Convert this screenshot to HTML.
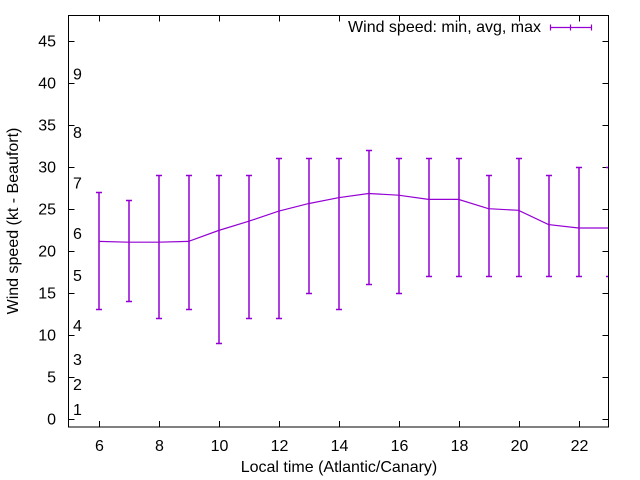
<!DOCTYPE html>
<html><head><meta charset="utf-8"><style>
html,body{margin:0;padding:0;background:#fff}
svg{display:block;font-family:"Liberation Sans",sans-serif}
</style></head><body>
<svg id="chart" width="640" height="480" viewBox="0 0 640 480">
<rect width="640" height="480" fill="#fff"/>
<g id="grid"></g>
<g id="beaufort"></g>
<g id="series"></g>
<rect x="68.5" y="15.5" width="540" height="411.5" fill="none" stroke="#000" stroke-width="1"/>
<text x="14" y="221" transform="rotate(-90 14 221)" text-anchor="middle" dominant-baseline="middle" font-size="16" fill="#000">Wind speed (kt - Beaufort)</text>
<text x="339" y="472" text-anchor="middle" font-size="16" fill="#000">Local time (Atlantic/Canary)</text>
<g>
<text x="541" y="32" text-anchor="end" font-size="16" fill="#000">Wind speed: min, avg, max</text>
<path d="M550.5 27.5H591.5M550.5 24.5V30.5M591.5 24.5V30.5M570.5 24.5V30.5" stroke="#9400d3" stroke-width="1.2" fill="none"/>
</g>
</svg>
<script>
const hours=[6,7,8,9,10,11,12,13,14,15,16,17,18,19,20,21,22,23];
const avgSpeed=[21.1,21,21,21.1,22.4,23.5,24.7,25.6,26.3,26.8,26.6,26.1,26.1,25,24.8,23.1,22.7,22.7];
const minSpeed=[13,14,12,13,9,12,12,15,13,16,15,17,17,17,17,17,17,17];
const maxSpeed=[27,26,29,29,29,29,31,31,31,32,31,31,31,29,31,29,30,30];
const yTicks=[0,5,10,15,20,25,30,35,40,45];
const xTicks=[6,8,10,12,14,16,18,20,22];
const beaufortLabels=["1","2","3","4","5","6","7","8","9"];
const beaufortValues=[1,4,7,11,17,22,28,34,41];

const NS="http://www.w3.org/2000/svg";
const L=68.5,R=608.5,T=15.5,B=427;
const xMin=5,xMax=23,yMin=-1,yMax=48;
const xs=v=>L+(v-xMin)/(xMax-xMin)*(R-L);
const ys=v=>B-(v-yMin)/(yMax-yMin)*(B-T);
function mk(tag,attrs,parent){const e=document.createElementNS(NS,tag);for(const k in attrs)e.setAttribute(k,attrs[k]);parent.appendChild(e);return e;}
const grid=document.getElementById('grid');
yTicks.forEach(v=>{
  const y=Math.round(ys(v))+0.5;
  const p=mk('path',{d:`M${L} ${y}h6M${R} ${y}h-6`,stroke:'#000','stroke-width':1},grid);
  
  
  const t=mk('text',{x:56,y:y+5,'text-anchor':'end','font-size':16,fill:'#000'},grid);
  t.textContent=v;
  
  
});
xTicks.forEach(v=>{
  const x=Math.round(xs(v))+0.5;
  const p=mk('path',{d:`M${x} ${B}v-6M${x} ${T}v6`,stroke:'#000','stroke-width':1},grid);
  
  
  const t=mk('text',{x:x,y:451,'text-anchor':'middle','font-size':16,fill:'#000'},grid);
  t.textContent=v;
  
  
});
const bf=document.getElementById('beaufort');
beaufortLabels.forEach((lab,i)=>{
  const t=mk('text',{x:73,y:ys(beaufortValues[i])+5,'font-size':16,fill:'#000'},bf);
  t.textContent=lab;
  
  
});
const s=document.getElementById('series');
const clip=mk('clipPath',{id:'pc'},s);
mk('rect',{x:L,y:T,width:R-L,height:B-T},clip);
const g=mk('g',{'clip-path':'url(#pc)'},s);
const pts=hours.map((h,i)=>`${xs(h).toFixed(1)},${ys(avgSpeed[i]).toFixed(1)}`).join(' ');
const line=mk('polyline',{points:pts,fill:'none',stroke:'#9400d3','stroke-width':1.2},g);


hours.forEach((h,i)=>{
  const x=Math.round(xs(h)),y1=Math.round(ys(minSpeed[i]))+0.5,y2=Math.round(ys(maxSpeed[i]))+0.5;
  const p=mk('path',{d:`M${x} ${y1}V${y2}M${x-3} ${y1}h6M${x-3} ${y2}h6`,fill:'none',stroke:'#9400d3','stroke-width':1.5},g);
  
  
});
</script>
</body></html>
